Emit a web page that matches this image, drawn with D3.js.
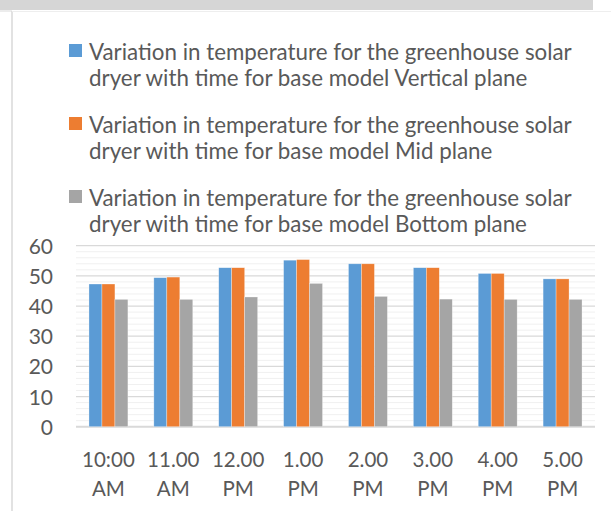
<!DOCTYPE html>
<html>
<head>
<meta charset="utf-8">
<script src="https://cdn.jsdelivr.net/npm/d3@7"></script>
<style>
  body { margin: 0; background: #fff; }
  svg { display: block; }
  text { font-family: Lato, "Open Sans", sans-serif; fill: #595959; }
</style>
</head>
<body>
<div id="chart"></div>
<script>
  // data
  var times = ["10:00 AM", "11.00 AM", "12.00 PM", "1.00 PM", "2.00 PM", "3.00 PM", "4.00 PM", "5.00 PM"];
  var seriesNames = [
    "Variation in temperature for the greenhouse solar dryer with time for base model Vertical plane",
    "Variation in temperature for the greenhouse solar dryer with time for base model Mid plane",
    "Variation in temperature for the greenhouse solar dryer with time for base model Bottom plane"
  ];
  var vertical = [47.3, 49.4, 52.7, 55.2, 54.0, 52.7, 50.8, 49.0];
  var mid      = [47.3, 49.6, 52.7, 55.4, 54.0, 52.7, 50.8, 49.0];
  var bottom   = [42.2, 42.2, 43.0, 47.5, 43.2, 42.3, 42.2, 42.2];
  var yTicks = [0, 10, 20, 30, 40, 50, 60];
  var colors = ["#5b9bd5", "#ed7d31", "#a5a5a5"];

  var width = 611, height = 511;
  var svg = d3.select("#chart").append("svg")
      .attr("width", width)
      .attr("height", height);

  // frame remnants of the screenshot
  svg.append("rect").attr("x", 0).attr("y", 0).attr("width", 593).attr("height", 10).attr("fill", "#d6d6d6");
  svg.append("rect").attr("x", 0).attr("y", 10).attr("width", 12).attr("height", 2).attr("fill", "#ececec");
  svg.append("line").attr("x1", 12).attr("x2", 12).attr("y1", 11).attr("y2", height)
      .attr("stroke", "#d9d9d9").attr("stroke-width", 1.5);
  svg.append("line").attr("x1", 12).attr("x2", 611).attr("y1", 11.5).attr("y2", 11.5)
      .attr("stroke", "#eeeeee").attr("stroke-width", 1);

  // fit a font size so a string gets a given width
  function fitSize(str, target, base) {
    var t = svg.append("text").style("font-size", base + "px").text(str);
    var w = t.node().getComputedTextLength();
    t.remove();
    return base * target / w;
  }

  var plot = {left: 76, right: 595, top: 245.7, bottom: 426.7};

  var x = d3.scaleBand()
      .domain(times)
      .range([plot.left, plot.right])
      .paddingInner(0.4)
      .paddingOuter(0.2);

  var xSub = d3.scaleBand()
      .domain([0, 1, 2])
      .range([0, x.bandwidth()]);

  var y = d3.scaleLinear()
      .domain([0, 60])
      .range([plot.bottom, plot.top]);

  // minor gridlines every 2
  var minor = d3.range(2, 60, 2).filter(function(d) { return d % 10 !== 0; });
  svg.append("g").selectAll("line")
      .data(minor)
    .enter().append("line")
      .attr("x1", plot.left).attr("x2", plot.right)
      .attr("y1", function(d) { return y(d); })
      .attr("y2", function(d) { return y(d); })
      .attr("stroke", "#f0f0f0")
      .attr("stroke-width", 1);

  // major gridlines
  svg.append("g").selectAll("line")
      .data(yTicks)
    .enter().append("line")
      .attr("x1", plot.left).attr("x2", plot.right)
      .attr("y1", function(d) { return y(d); })
      .attr("y2", function(d) { return y(d); })
      .attr("stroke", "#d9d9d9")
      .attr("stroke-width", function(d) { return d === 0 ? 2 : 1.3; });

  // bars
  var series = [vertical, mid, bottom];
  series.forEach(function(vals, si) {
    svg.append("g").selectAll("rect")
        .data(vals)
      .enter().append("rect")
        .attr("x", function(d, i) { return x(times[i]) + xSub(si); })
        .attr("y", function(d) { return y(d); })
        .attr("width", xSub.bandwidth())
        .attr("height", function(d) { return y(0) - y(d); })
        .attr("fill", colors[si])
        .attr("stroke", "#ffffff")
        .attr("stroke-opacity", 0.5)
        .attr("stroke-width", 0.6);
  });

  // y axis labels
  var yAxis = d3.axisLeft(y).tickValues(yTicks).tickSize(0).tickPadding(0);
  var gy = svg.append("g")
      .attr("transform", "translate(53,0)")
      .call(yAxis);
  gy.select(".domain").remove();
  gy.selectAll("text")
      .attr("x", 0)
      .attr("dy", "0.36em")
      .style("font-size", "21px")
      .style("font-family", null)
      .attr("fill", "#595959");

  // x axis labels, two lines each
  var xl = svg.append("g").selectAll("text")
      .data(times)
    .enter().append("text")
      .attr("text-anchor", "middle")
      .style("font-size", "20.5px")
      .attr("transform", function(d) { return "translate(" + (x(d) + x.bandwidth() / 2) + ",0)"; });
  xl.append("tspan").attr("x", 0).attr("y", 467).text(function(d) { return d.split(" ")[0]; });
  xl.append("tspan").attr("x", 0).attr("y", 496).text(function(d) { return d.split(" ")[1]; });

  // legend
  var legSize = fitSize("Variation in temperature for the greenhouse solar", 483, 20);
  var leg = svg.append("g").selectAll("g")
      .data(seriesNames)
    .enter().append("g")
      .attr("transform", function(d, i) { return "translate(0," + (i * 73) + ")"; });
  leg.append("rect")
      .attr("x", 69).attr("y", 44)
      .attr("width", 13).attr("height", 13)
      .attr("fill", function(d, i) { return colors[i]; });
  var lt = leg.append("text").style("font-size", legSize + "px");
  lt.append("tspan").attr("x", 89).attr("y", 60)
      .text(function(d) { return d.slice(0, d.indexOf(" dryer")); });
  lt.append("tspan").attr("x", 89).attr("y", 86)
      .text(function(d) { return d.slice(d.indexOf(" dryer") + 1); });
</script>
</body>
</html>
